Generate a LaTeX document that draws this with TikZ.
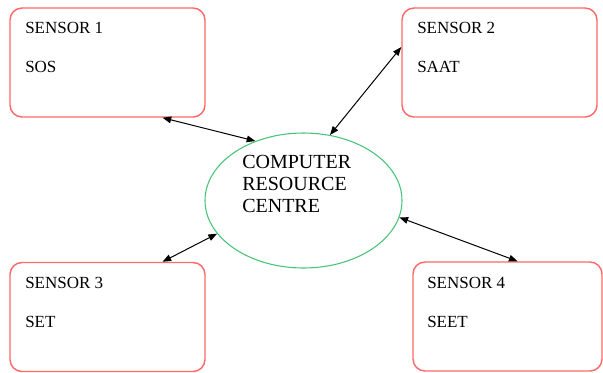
\documentclass[tikz,border=0pt]{standalone}
\usepackage{fontspec}
\setmainfont{Liberation Serif}
\usetikzlibrary{shapes.geometric,arrows.meta,calc}
\definecolor{boxred}{RGB}{255,105,105}
\definecolor{ellgreen}{RGB}{70,195,120}
\begin{document}
\begin{tikzpicture}[x=0.75pt,y=-0.75pt,
  sensorbox/.style={draw=boxred,line width=1.1pt,rounded corners=9pt,minimum width=146.25pt,minimum height=81.75pt,inner sep=0pt},
  sensortext/.style={anchor=base west,inner sep=0pt,align=left,font=\fontsize{12.75}{29.25}\selectfont},
  centre/.style={draw=ellgreen,line width=0.8pt,ellipse,minimum width=147.75pt,minimum height=101.25pt,inner sep=0pt},
  link/.style={line width=0.75pt,{Triangle[length=6.5pt,width=5pt]}-{Triangle[length=6.5pt,width=5pt]}}]
\useasboundingbox (0,0) rectangle (603,372);
\node[sensorbox] (s1) at (107.5,62.5) {};
\node[sensorbox] (s2) at (499.5,62.5) {};
\node[sensorbox] (s3) at (107.5,317) {};
\node[sensorbox,minimum width=141.75pt] (s4) at (507.5,316.5) {};
\node[sensortext] (t1) at (25,72) {SENSOR 1\\SOS};
\node[sensortext] (t2) at (417,72) {SENSOR 2\\SAAT};
\node[sensortext] (t3) at (25,327) {SENSOR 3\\SET};
\node[sensortext] (t4) at (427,327) {SENSOR 4\\SEET};
\node[centre] (c) at (303.5,200.5) {};
\node[anchor=base west,inner sep=0pt,align=left,font=\fontsize{15}{16.5}\selectfont] (ct) at (242,212) {COMPUTER\\RESOURCE\\CENTRE};
\draw[link] ($(s1.south west)!0.78!(s1.south east)$) -- (c.129.7);
\draw[link] (c.68.6) -- ($(s2.north west)!0.36!(s2.south west)$);
\draw[link] ($(s3.north west)!0.78!(s3.north east)$) -- (c.201);
\draw[link] (c.-10) -- ($(s4.north west)!0.553!(s4.north east)$);
\end{tikzpicture}
\end{document}
